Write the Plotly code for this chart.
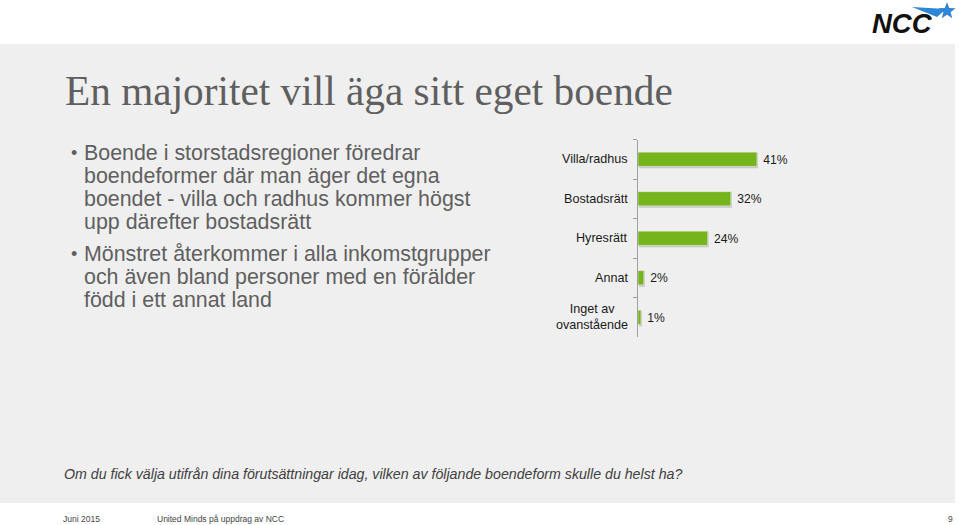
import plotly.graph_objects as go
import math

categories = ["Villa/radhus", "Bostadsrätt", "Hyresrätt", "Annat", "Inget av<br>ovanstående"]
values = [41, 32, 24, 2, 1]
value_labels = ["41%", "32%", "24%", "2%", "1%"]

W, H = 959, 525
def px(x): return x / W
def py(y): return 1 - y / H

fig = go.Figure()
# soft shadow under the bars
fig.add_trace(go.Bar(
    y=categories, x=values, orientation="h", base=0.35,
    marker=dict(color="rgba(150,150,150,0.45)", line=dict(width=0)),
    width=0.40, offset=-0.17, showlegend=False, hoverinfo="skip",
))
fig.add_trace(go.Bar(
    y=categories, x=values, orientation="h",
    text=value_labels, textposition="outside", texttemplate=" %{text}",
    textfont=dict(family="Liberation Sans, Arial", size=12.8, color="#1a1a1a"),
    marker=dict(color="#76b41c", line=dict(color="#e8f0dc", width=0.5)),
    width=0.36, offset=-0.18, cliponaxis=False, showlegend=False,
))

shapes = [
    dict(type="rect", xref="paper", yref="paper", x0=0, x1=px(955), y0=py(503), y1=py(44),
         fillcolor="#efefef", line=dict(width=0), layer="below"),
]
def pth(points):
    return "M " + " L ".join(f"{px(x)},{py(y)}" for x, y in points) + " Z"
star_c = (947, 11)
pts = []
for i in range(10):
    r = 9 if i % 2 == 0 else 3.8
    a = math.pi / 2 + i * math.pi / 5
    pts.append((star_c[0] + r * math.cos(a), star_c[1] - r * math.sin(a)))
shapes.append(dict(type="path", xref="paper", yref="paper", path=pth(pts),
                   fillcolor="#2f86d6", line=dict(width=0)))
shapes.append(dict(type="path", xref="paper", yref="paper",
                   path=pth([(912, 7), (946, 9), (937, 17)]),
                   fillcolor="#2f86d6", line=dict(width=0)))

annotations = [
    dict(text="En majoritet vill äga sitt eget boende", x=px(63), y=py(91), xref="paper", yref="paper",
         xanchor="left", yanchor="middle", showarrow=False,
         font=dict(family="Liberation Serif, Times New Roman, serif", size=41.3, color="#5f5f5f")),
    dict(text="<b><i>NCC</i></b>", x=px(870), y=py(24), xref="paper", yref="paper", xanchor="left",
         yanchor="middle", showarrow=False,
         font=dict(family="Liberation Sans, Arial", size=27.5, color="#111111")),
    dict(text="<i>Om du fick välja utifrån dina förutsättningar idag, vilken av följande boendeform skulle du helst ha?</i>",
         x=px(62), y=py(474), xref="paper", yref="paper", xanchor="left", yanchor="middle", showarrow=False,
         font=dict(family="Liberation Sans, Arial", size=14.2, color="#404040")),
    dict(text="Juni 2015", x=px(61), y=py(519), xref="paper", yref="paper", xanchor="left", yanchor="middle",
         showarrow=False, font=dict(family="Liberation Sans, Arial", size=8.5, color="#444444")),
    dict(text="United Minds på uppdrag av NCC", x=px(155), y=py(519), xref="paper", yref="paper", xanchor="left",
         yanchor="middle", showarrow=False, font=dict(family="Liberation Sans, Arial", size=8.5, color="#444444")),
    dict(text="9", x=px(955), y=py(519), xref="paper", yref="paper", xanchor="right", yanchor="middle",
         showarrow=False, font=dict(family="Liberation Sans, Arial", size=8.5, color="#444444")),
]

bullets = [
    (153, ["Boende i storstadsregioner föredrar", "boendeformer där man äger det egna",
           "boendet - villa och radhus kommer högst", "upp därefter bostadsrätt"]),
    (254, ["Mönstret återkommer i alla inkomstgrupper", "och även bland personer med en förälder",
           "född i ett annat land"]),
]
for y0, lines in bullets:
    annotations.append(dict(text="•", x=px(69), y=py(y0), xref="paper", yref="paper", xanchor="left",
                            yanchor="middle", showarrow=False,
                            font=dict(family="Liberation Sans, Arial", size=18, color="#5f5f5f")))
    for i, ln in enumerate(lines):
        annotations.append(dict(text=ln, x=px(82), y=py(y0 + 23 * i), xref="paper", yref="paper",
                                xanchor="left", yanchor="middle", showarrow=False,
                                font=dict(family="Liberation Sans, Arial", size=21.4, color="#5f5f5f")))

for c in categories:
    annotations.append(dict(text=c, x=0, y=c, xref="x", yref="y", xanchor="right", yanchor="middle",
                            xshift=-8, showarrow=False, align="center",
                            font=dict(family="Liberation Sans, Arial", size=12.6, color="#1a1a1a")))

fig.update_layout(
    width=W, height=H, margin=dict(l=0, r=0, t=0, b=0),
    paper_bgcolor="white", plot_bgcolor="rgba(0,0,0,0)",
    shapes=shapes, annotations=annotations, barmode="overlay",
    xaxis=dict(domain=[px(638), px(783)], range=[0, 50], visible=False, fixedrange=True),
    yaxis=dict(domain=[py(337), py(139.5)], autorange="reversed", showticklabels=False,
               showline=True, linecolor="#a0a0a0", linewidth=1, ticks="outside", ticklen=4,
               tickcolor="#a0a0a0", tickson="boundaries", showgrid=False, zeroline=False),
)

fig.write_html("out.html")
